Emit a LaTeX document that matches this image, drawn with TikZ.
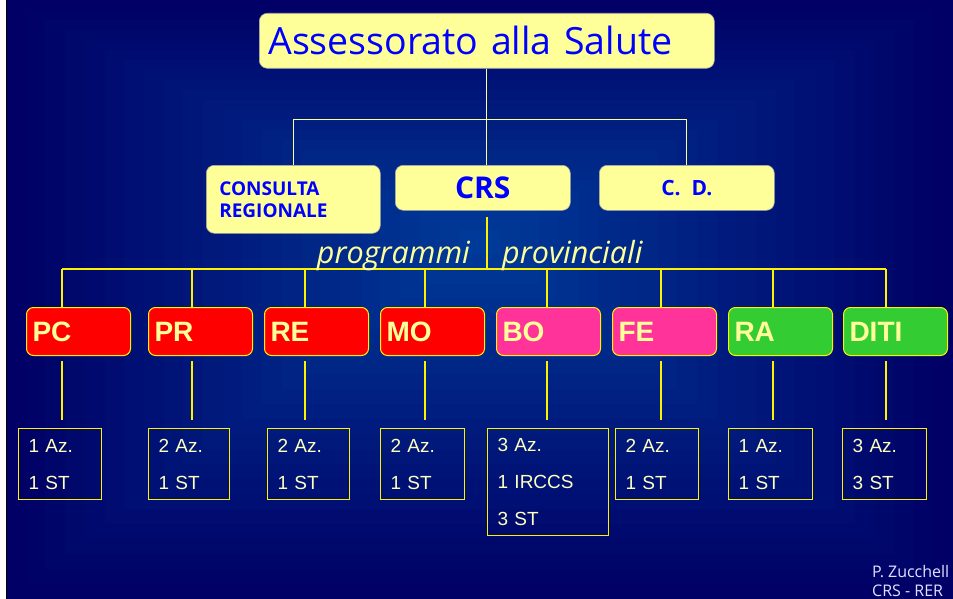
\documentclass[tikz,border=0pt]{standalone}
\usepackage{fontspec}
\setmainfont{Liberation Sans}
\newfontfamily\comicfont{Open Sans}
\usetikzlibrary{positioning,calc}
\definecolor{bgedge}{RGB}{0,0,102}
\definecolor{bgcenter}{RGB}{0,58,152}
\definecolor{paleyellow}{RGB}{255,255,153}
\definecolor{sitetext}{RGB}{255,255,190}
\definecolor{provred}{RGB}{255,0,0}
\definecolor{provpink}{RGB}{255,51,153}
\definecolor{provgreen}{RGB}{51,204,51}
\definecolor{titleblue}{RGB}{0,0,255}

\begin{document}
\begin{tikzpicture}[
    x=1pt, y=-1pt,
    top box/.style={rectangle, rounded corners=8pt, fill=paleyellow, draw=gray!70, line width=0.6pt, text=titleblue, inner ysep=0pt, anchor=north west, minimum height=45},
    prov box/.style={rectangle, rounded corners=7pt, draw=yellow, line width=1pt, text=paleyellow, font=\bfseries\fontsize{28}{30}\selectfont, anchor=north west, minimum width=104, minimum height=48, text width=92, inner xsep=6pt, inner ysep=0pt, align=left},
    site box/.style={rectangle, draw=yellow, line width=1.2pt, text=sitetext, font=\fontsize{19}{37}\selectfont, anchor=north west, inner xsep=10pt, inner ysep=0pt, align=left},
    link/.style={draw, paleyellow, line width=0.8pt},
    bus/.style={draw, yellow, line width=1.6pt},
    label text/.style={text=paleyellow, font=\comicfont\itshape\fontsize{30.5}{32}\selectfont, inner sep=0pt},
    footer/.style={text=white!88!blue, font=\comicfont\fontsize{16}{19}\selectfont, inner sep=0pt, align=left, anchor=north west}
]
    \useasboundingbox (0,0) rectangle (953,599);
    \fill[white] (0,0) rectangle (953,599);
    \foreach \i in {0,...,23} {
        \pgfmathtruncatemacro\t{100*\i/23}
        \fill[bgcenter!\t!bgedge] (6+\i*19.7,\i*10) rectangle (953-\i*19.7,599-\i*15);
    }
    \draw[black, line width=1pt] (6.5,0) -- (6.5,599);

    \node[top box, minimum width=455, minimum height=55, text width=437, inner xsep=9pt, align=left, font=\comicfont\fontsize{37.5}{40}\selectfont] (title) at (259,13) {Assessorato alla Salute};
    \node[top box, minimum width=174, minimum height=68, text width=148, inner xsep=13pt, align=left, font=\comicfont\bfseries\fontsize{19}{22}\selectfont] (cons) at (206,165) {CONSULTA\\REGIONALE};
    \node[top box, minimum width=175, font=\comicfont\bfseries\fontsize{30}{32}\selectfont] (crs) at (395,165) {CRS};
    \node[top box, minimum width=175, font=\comicfont\bfseries\fontsize{21}{22}\selectfont] (cd) at (599,165) {C.~~D.};

    \coordinate (hub) at (486,119);
    \draw[link] (title.south) -- (title.south |- hub) -| (cons.north);
    \draw[link] (hub) -| (cd.north);
    \draw[link] (hub) -- (hub |- crs.north);

    \foreach \nm/\x/\dx/\col [count=\i] in {PC/26/62/provred, PR/148/192/provred, RE/264/305/provred, MO/380/425/provred, BO/496/547/provpink, FE/612/661/provpink, RA/728/773/provgreen, DITI/843/886/provgreen} {
        \node[prov box, fill=\col] (p-\i) at (\x,307) {\nm};
        \coordinate (d-\i) at (\dx,269);
        \draw[bus] (d-\i) -- (d-\i |- p-\i.north);
    }
    \draw[bus] (d-1) -- (d-8);

    \coordinate (midbus) at (487,269);
    \draw[bus] ($(crs.south -| midbus)+(0,6)$) -- (midbus);
    \node[label text, anchor=base east] (prog) at (470,263) {programmi};
    \node[label text, anchor=base west] (provl) at (502,263) {provinciali};

    \foreach \txt/\x/\w/\h [count=\i] in {{1 Az.\\1 ST}/18/83/71, {2 Az.\\1 ST}/148/81/71, {2 Az.\\1 ST}/267/82/71, {2 Az.\\1 ST}/380/84/71, {3 Az.\\1 IRCCS\\3 ST}/487/121/107, {2 Az.\\1 ST}/615/83/71, {1 Az.\\1 ST}/728/84/71, {3 Az.\\3 ST}/842/84/71} {
        \pgfmathsetmacro\tw{\w-20}
        \node[site box, minimum width=\w, minimum height=\h, text width=\tw pt] (s-\i) at (\x,428) {\txt};
        \draw[bus] ($(d-\i |- p-\i.south)+(0,5)$) -- ($(d-\i |- s-\i.north)+(0,-8)$);
    }

    \node[footer] (sig) at (872,565) {P. Zucchell\\CRS - RER};
\end{tikzpicture}
\end{document}
